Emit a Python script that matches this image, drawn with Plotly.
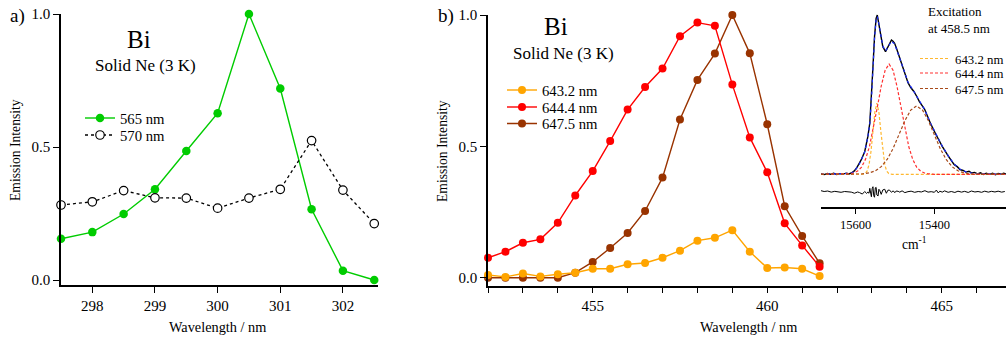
import plotly.graph_objects as go

W, H = 1006, 338
FONT = "Liberation Serif"

# ---------------- Panel a data ----------------
wl_a = [297.5, 298.0, 298.5, 299.0, 299.5, 300.0, 300.5, 301.0, 301.5, 302.0, 302.5]
em_565 = [0.155, 0.18, 0.248, 0.341, 0.485, 0.627, 1.0, 0.72, 0.266, 0.035, 0.0]
em_570 = [0.282, 0.294, 0.336, 0.309, 0.308, 0.27, 0.308, 0.341, 0.524, 0.338, 0.212]
ticks_a = [298, 299, 300, 301, 302]

# ---------------- Panel b data ----------------
wl_b = [452.0, 452.5, 453.0, 453.5, 454.0, 454.5, 455.0, 455.5, 456.0, 456.5,
        457.0, 457.5, 458.0, 458.5, 459.0, 459.5, 460.0, 460.5, 461.0, 461.5]
em_6432 = [0.01, 0.003, 0.016, 0.005, 0.013, 0.019, 0.034, 0.034, 0.051, 0.056,
           0.076, 0.103, 0.141, 0.152, 0.181, 0.099, 0.037, 0.039, 0.034, 0.006]
em_6444 = [0.076, 0.099, 0.133, 0.146, 0.209, 0.313, 0.406, 0.52, 0.64, 0.726,
           0.796, 0.919, 0.971, 0.959, 0.735, 0.534, 0.401, 0.207, 0.123, 0.042]
em_6475 = [0.0, 0.0, 0.0, 0.0, 0.0, 0.019, 0.06, 0.113, 0.17, 0.254,
           0.381, 0.602, 0.753, 0.853, 1.0, 0.854, 0.584, 0.272, 0.159, 0.055]
ticks_b = [455, 460, 465]

# ---------------- Inset data (excitation at 458.5 nm) ----------------
spec_wn = [15688, 15680, 15672, 15664, 15656, 15648, 15640, 15632, 15624, 15617, 15611, 15604, 15598,
           15592, 15586, 15577, 15569, 15564, 15560, 15556, 15552, 15548, 15545, 15541, 15536, 15531,
           15524, 15518, 15512, 15509, 15505, 15501, 15496, 15492, 15484, 15475, 15467, 15460, 15452,
           15445, 15438, 15425, 15410, 15395, 15380, 15365, 15350, 15342, 15335, 15327, 15320, 15312,
           15305, 15298, 15290, 15283, 15275, 15268, 15260, 15252, 15245, 15238, 15230, 15224, 15218]
spec = [0.004, -0.002, 0.005, 0.0, 0.006, -0.001, 0.004, 0.001, 0.007, 0.002, 0.008, 0.02, 0.038,
        0.06, 0.09, 0.142, 0.236, 0.322, 0.466, 0.675, 0.864, 0.979, 1.0, 0.948, 0.887, 0.801,
        0.77, 0.80, 0.835, 0.843, 0.835, 0.822, 0.79, 0.76, 0.697, 0.634, 0.575, 0.545, 0.52,
        0.49, 0.456, 0.41, 0.32, 0.245, 0.175, 0.115, 0.062, 0.048, 0.03, 0.024, 0.014, 0.019,
        0.008, 0.012, 0.003, 0.009, -0.001, 0.007, 0.0, 0.006, -0.002, 0.005, 0.001, 0.006, 0.002]

fit_wn = [15688, 15640, 15611, 15604, 15598, 15592, 15586, 15577, 15569, 15564, 15560, 15556, 15552,
          15548, 15545, 15541, 15536, 15531, 15524, 15518, 15509, 15501, 15492, 15484, 15475, 15467,
          15452, 15438, 15425, 15410, 15395, 15380, 15365, 15350, 15335, 15320, 15300, 15270, 15218]
fit = [0.0, 0.001, 0.006, 0.018, 0.036, 0.058, 0.088, 0.14, 0.232, 0.318, 0.46, 0.668, 0.855,
       0.97, 0.99, 0.945, 0.885, 0.805, 0.775, 0.8, 0.835, 0.818, 0.762, 0.7, 0.636, 0.578,
       0.52, 0.458, 0.408, 0.322, 0.247, 0.177, 0.117, 0.065, 0.033, 0.015, 0.004, 0.001, 0.0]

g6432_wn = [15688, 15620, 15586, 15581, 15576, 15571, 15566, 15561, 15556, 15551, 15546, 15541,
            15536, 15531, 15526, 15521, 15516, 15511, 15506, 15218]
g6432 = [0, 0, 0, 0.001, 0.005, 0.02, 0.06, 0.144, 0.27, 0.393, 0.446, 0.393,
         0.27, 0.144, 0.06, 0.02, 0.005, 0.001, 0, 0]

g6444_wn = [15688, 15630, 15615, 15605, 15595, 15585, 15575, 15565, 15555, 15545, 15535, 15525,
            15515, 15505, 15495, 15485, 15475, 15465, 15455, 15445, 15435, 15425, 15415, 15400, 15218]
g6444 = [0, 0, 0.003, 0.008, 0.02, 0.045, 0.094, 0.173, 0.286, 0.42, 0.553, 0.654,
         0.692, 0.654, 0.553, 0.42, 0.286, 0.173, 0.094, 0.045, 0.02, 0.008, 0.003, 0, 0]

g6475_wn = [15688, 15600, 15585, 15565, 15550, 15535, 15520, 15505, 15490, 15475, 15460, 15445,
            15430, 15415, 15400, 15385, 15370, 15355, 15340, 15325, 15305, 15280, 15218]
g6475 = [0, 0, 0.002, 0.009, 0.022, 0.048, 0.093, 0.161, 0.248, 0.336, 0.403, 0.429,
         0.403, 0.336, 0.248, 0.161, 0.093, 0.048, 0.022, 0.009, 0.002, 0, 0]

res_wn = [15688, 15680, 15671, 15662, 15653, 15645, 15637, 15628, 15620, 15611, 15603, 15595, 15590,
          15583, 15577, 15572, 15569, 15566, 15564, 15562, 15560, 15558, 15556, 15554, 15552, 15550,
          15548, 15546, 15543, 15541, 15539, 15535, 15531, 15526, 15522, 15518, 15514, 15509, 15505,
          15500, 15497, 15492, 15488, 15482, 15475, 15467, 15459, 15450, 15441, 15433, 15424, 15416,
          15408, 15400, 15395, 15390, 15386, 15380, 15374, 15365, 15357, 15348, 15340, 15331, 15323,
          15314, 15306, 15297, 15289, 15280, 15272, 15263, 15255, 15246, 15238, 15229, 15221]
res = [-0.103, -0.108, -0.105, -0.112, -0.107, -0.111, -0.113, -0.108, -0.11, -0.112, -0.119, -0.111, -0.115,
       -0.124, -0.108, -0.12, -0.112, -0.119, -0.088, -0.13, -0.141, -0.09, -0.078, -0.135, -0.144, -0.085,
       -0.082, -0.13, -0.136, -0.094, -0.1, -0.126, -0.098, -0.094, -0.119, -0.1, -0.099, -0.113, -0.104,
       -0.115, -0.105, -0.107, -0.112, -0.104, -0.115, -0.109, -0.106, -0.113, -0.108, -0.111, -0.103, -0.112,
       -0.109, -0.113, -0.099, -0.117, -0.106, -0.112, -0.104, -0.113, -0.108, -0.114, -0.106, -0.112, -0.107,
       -0.114, -0.105, -0.111, -0.108, -0.113, -0.106, -0.112, -0.107, -0.111, -0.106, -0.112, -0.108]
ticks_inset = [15600, 15400]

# ---------------- colours ----------------
GREEN = "#00cc00"
ORANGE = "#ffa500"
RED = "#ff0000"
BROWN = "#993300"


def px(x):
    return x / W


def py(y):
    return 1 - y / H


fig = go.Figure()

# Panel a
fig.add_trace(go.Scatter(x=wl_a, y=em_565, name="565 nm", mode="lines+markers",
                         line=dict(color=GREEN, width=1.4), marker=dict(color=GREEN, size=8.5),
                         xaxis="x", yaxis="y", legend="legend", cliponaxis=False))
fig.add_trace(go.Scatter(x=wl_a, y=em_570, name="570 nm", mode="lines+markers",
                         line=dict(color="black", width=1.3, dash="3px,3px"),
                         marker=dict(color="white", size=8.5, line=dict(color="black", width=1.2)),
                         xaxis="x", yaxis="y", legend="legend2", cliponaxis=False))

# Panel b (draw order: brown, red, orange on top)
fig.add_trace(go.Scatter(x=wl_b, y=em_6475, name="647.5 nm", mode="lines+markers",
                         line=dict(color=BROWN, width=1.4), marker=dict(color=BROWN, size=8),
                         xaxis="x2", yaxis="y2", legend="legend5", cliponaxis=False))
fig.add_trace(go.Scatter(x=wl_b, y=em_6444, name="644.4 nm", mode="lines+markers",
                         line=dict(color=RED, width=1.4), marker=dict(color=RED, size=8),
                         xaxis="x2", yaxis="y2", legend="legend4", cliponaxis=False))
fig.add_trace(go.Scatter(x=wl_b, y=em_6432, name="643.2 nm", mode="lines+markers",
                         line=dict(color=ORANGE, width=1.4), marker=dict(color=ORANGE, size=8),
                         xaxis="x2", yaxis="y2", legend="legend3", cliponaxis=False))

# Inset: measured spectrum (black), fit (blue dashed on top), residual, components
fig.add_trace(go.Scatter(x=spec_wn, y=spec, mode="lines", line=dict(color="black", width=1.4),
                         xaxis="x3", yaxis="y3", showlegend=False))
fig.add_trace(go.Scatter(x=fit_wn, y=fit, mode="lines",
                         line=dict(color="#1a2cff", width=1.2, dash="3px,3px"),
                         xaxis="x3", yaxis="y3", showlegend=False))
fig.add_trace(go.Scatter(x=res_wn, y=res, mode="lines", line=dict(color="black", width=1.0),
                         xaxis="x3", yaxis="y3", showlegend=False))
fig.add_trace(go.Scatter(x=g6432_wn, y=g6432, name="643.2 nm", mode="lines",
                         line=dict(color="#ffb830", width=1.2, dash="3px,2px"),
                         xaxis="x3", yaxis="y3", legend="legend6"))
fig.add_trace(go.Scatter(x=g6444_wn, y=g6444, name="644.4 nm", mode="lines",
                         line=dict(color="#ff3030", width=1.2, dash="3px,2px"),
                         xaxis="x3", yaxis="y3", legend="legend7"))
fig.add_trace(go.Scatter(x=g6475_wn, y=g6475, name="647.5 nm", mode="lines",
                         line=dict(color="#a84a1a", width=1.2, dash="3px,2px"),
                         xaxis="x3", yaxis="y3", legend="legend8"))

axis_common = dict(showline=True, linecolor="black", linewidth=1.6, ticks="outside",
                   tickcolor="black", tickwidth=1.3, showgrid=False, zeroline=False,
                   tickfont=dict(family=FONT, size=15, color="black"))


def legend_at(x_left, y_center, size):
    # one-entry legend; entry centre sits 5px + half entry height below the top
    top = y_center - 5 - (1.3 * size + 3) / 2
    return dict(x=px(x_left), y=py(top), xanchor="left", yanchor="top",
                bgcolor="rgba(0,0,0,0)", borderwidth=0, itemwidth=30,
                font=dict(family=FONT, size=size, color="black"))


fig.update_layout(
    width=W, height=H,
    margin=dict(l=0, r=0, t=0, b=0, pad=0, autoexpand=False),
    paper_bgcolor="white", plot_bgcolor="white",
    font=dict(family=FONT, color="black"),
    xaxis=dict(domain=[px(61), px(378)], range=[297.5, 302.56], anchor="y",
               tickvals=ticks_a, ticklen=6, **axis_common),
    yaxis=dict(domain=[py(285), py(14)], range=[-0.0188, 1.0], anchor="x",
               tickvals=[0, 0.5, 1.0], tickformat=".1f", ticklen=6, **axis_common),
    xaxis2=dict(domain=[px(488), 1.0], range=[452, 466.84], anchor="y2",
                tickvals=ticks_b, ticklen=6,
                minor=dict(dtick=1, tick0=452, ticks="outside", ticklen=6, tickwidth=1.3,
                           tickcolor="black", showgrid=False),
                **axis_common),
    yaxis2=dict(domain=[py(285.5), py(15)], range=[-0.0297, 1.0], anchor="x2",
                tickvals=[0, 0.5, 1.0], tickformat=".1f", ticklen=6, **axis_common),
    xaxis3=dict(domain=[px(821), 1.0], range=[15688, 15218], anchor="y3",
                tickvals=ticks_inset, tickformat="d", ticklen=5, showline=True, linecolor="black",
                linewidth=1.5, ticks="outside", tickcolor="black", tickwidth=1.2, showgrid=False,
                zeroline=False, tickfont=dict(family=FONT, size=12.5, color="black")),
    yaxis3=dict(domain=[py(207), py(8)], range=[-0.2053, 1.044], anchor="x3", visible=False),
    legend=legend_at(80, 118, 14.7),
    legend2=legend_at(80, 135, 14.7),
    legend3=legend_at(502, 90, 14.7),
    legend4=legend_at(502, 107, 14.7),
    legend5=legend_at(502, 123.5, 14.7),
    legend6=legend_at(915, 58.5, 12.8),
    legend7=legend_at(915, 73, 12.8),
    legend8=legend_at(915, 88.5, 12.8),
)


def ann(text, x, y, size, xanchor="center", yanchor="middle", angle=0, align="center"):
    fig.add_annotation(text=text, x=px(x), y=py(y), xref="paper", yref="paper",
                       xanchor=xanchor, yanchor=yanchor, showarrow=False, textangle=angle,
                       align=align, font=dict(family=FONT, size=size, color="black"))


ann("a)", 17, 16, 19)
ann("b)", 446, 16, 19)
ann("Bi", 139, 39, 25)
ann("Solid Ne (3 K)", 145, 65, 17)
ann("Bi", 556, 27, 25)
ann("Solid Ne (3 K)", 563, 53, 17)
ann("Emission Intensity", 15, 150, 13.6, angle=-90)
ann("Emission Intensity", 443, 151, 13.6, angle=-90)
ann("Wavelength / nm", 217, 327, 14.3)
ann("Wavelength / nm", 748, 327, 14.3)
ann("Excitation<br>at 458.5 nm", 926, 20, 13, xanchor="left", align="left")
ann("cm<sup>-1</sup>", 914, 243, 13.6)

fig.write_html(
    "out.html",
    config={"displayModeBar": False},
    post_script=(
        "document.documentElement.style.margin='0';"
        "document.body.style.margin='0';"
        "document.documentElement.style.overflow='hidden';"
        "document.body.style.overflow='hidden';"
        "var gd=document.getElementsByClassName('plotly-graph-div')[0];"
        "gd.style.position='fixed';gd.style.left='0px';gd.style.top='0px';"
    ),
)
